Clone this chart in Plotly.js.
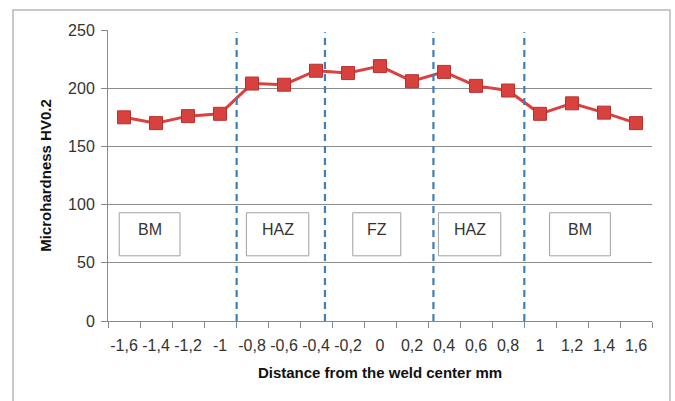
<!DOCTYPE html>
<html><head><meta charset="utf-8">
<script src="https://cdn.plot.ly/plotly-3.0.1.min.js"></script>
<style>html,body{margin:0;padding:0;background:#fff;}</style>
</head><body><div id="chart" style="width:675px;height:401px;"></div>
<script>
const categories = ["-1,6","-1,4","-1,2","-1","-0,8","-0,6","-0,4","-0,2","0","0,2","0,4","0,6","0,8","1","1,2","1,4","1,6"];
const hardness = [175,170,176,178,204,203,215,213,219,206,214,202,198,178,187,179,170];
const boundaryPositions = [3.52, 6.28, 9.67, 12.51];
const zoneLabels = ["BM","HAZ","FZ","HAZ","BM"];
const zoneCenters = [0.8, 4.8, 7.9, 10.8, 14.25];
const yTicks = [0,50,100,150,200,250];

const font = "Liberation Sans, Arial, sans-serif";
const shapes = boundaryPositions.map(x => ({
  type:"line", xref:"x", yref:"y", x0:x, x1:x, y0:0, y1:248,
  line:{color:"#3f7fb2", width:2.2, dash:"7px,5px"}
}));
shapes.push({type:"rect", xref:"paper", yref:"paper", x0:-0.1746, x1:1.033, y0:-0.3, y1:1.0687,
  line:{color:"#b8b8b8", width:1.5}, fillcolor:"rgba(0,0,0,0)", layer:"below"});
const boxW = [1.9,1.95,1.5,1.95,1.9];
zoneCenters.forEach((c,i)=>{
  shapes.push({type:"rect", xref:"x", yref:"y", x0:c-boxW[i]/2, x1:c+boxW[i]/2, y0:56, y1:93,
    line:{color:"#a0a0a0", width:1}, fillcolor:"#ffffff"});
});
const annotations = zoneCenters.map((c,i)=>({
  x:c, y:79, xref:"x", yref:"y", text:zoneLabels[i], showarrow:false,
  font:{family:font, size:16, color:"#333"}
}));

Plotly.newPlot("chart", [{
  x: categories, y: hardness, type:"scatter", mode:"lines+markers",
  line:{color:"#d9413f", width:3},
  marker:{symbol:"square", size:13, color:"#d9413f", line:{color:"#b83330", width:1}}
}], {
  width:675, height:401,
  margin:{l:108, r:23, t:30, b:80},
  paper_bgcolor:"#fff", plot_bgcolor:"#fff",
  showlegend:false,
  font:{family:font, size:15, color:"#333"},
  xaxis:{type:"category", tickson:"boundaries", ticks:"outside", ticklen:6, tickcolor:"#888",
    showline:true, linecolor:"#888", linewidth:1, showgrid:false, zeroline:false, tickangle:0,
    range:[-0.5,16.5], tickfont:{size:16, color:"#333"}, ticklabelstandoff:10,
    title:{text:"<b>Distance from the weld center mm</b>", font:{size:15, color:"#111"}, standoff:14}},
  yaxis:{range:[0,250], tickvals:yTicks, ticks:"outside", ticklen:6, tickcolor:"#888",
    showline:true, linecolor:"#888", showgrid:true, gridcolor:"#8c8c8c", gridwidth:1, zeroline:false,
    tickfont:{size:16, color:"#333"}, ticklabelstandoff:3,
    title:{text:"<b>Microhardness HV0.2</b>", font:{size:15, color:"#111"}, standoff:12}},
  shapes: shapes,
  annotations: annotations
}, {displayModeBar:false, staticPlot:true});
</script></body></html>
